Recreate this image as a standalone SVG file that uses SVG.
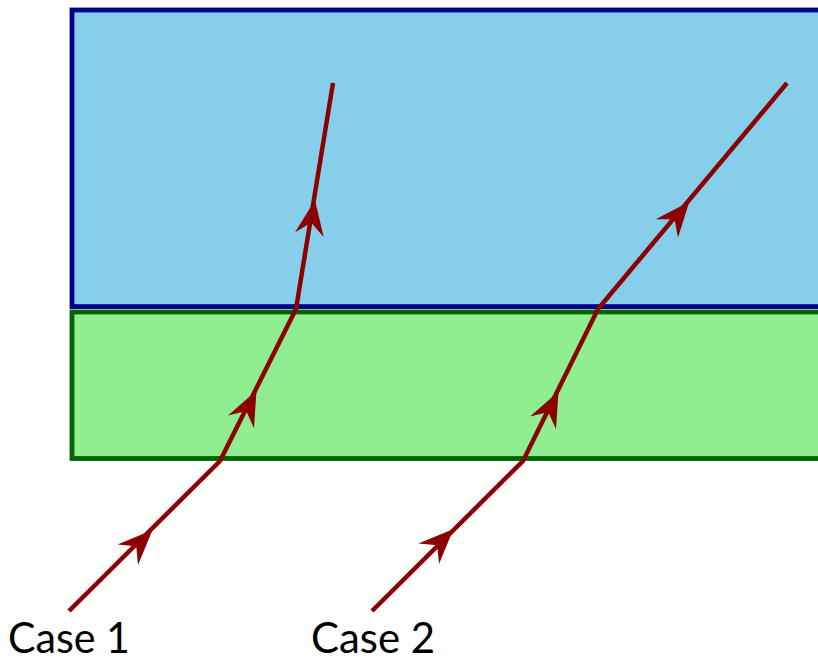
<svg xmlns="http://www.w3.org/2000/svg" xmlns:xlink="http://www.w3.org/1999/xlink" width="818" height="662" viewBox="0 0 818 662">
  <style>
    .ray { fill: none; stroke: #8b0000; stroke-width: 4.5; stroke-linejoin: miter; stroke-linecap: butt; }
    .head { fill: #8b0000; stroke: none; }
    .label { font-family: Lato, "Open Sans", "DejaVu Sans", sans-serif; font-size: 42px; fill: #000; }
  </style>
  <defs>
    <path id="ah" class="head" d="M0,0 L-35,-14.5 L-23,0 L-35,14.5 Z"/>
  </defs>
  <g id="medium-upper">
    <rect x="72" y="10" width="800" height="296.6" fill="#87ceeb" stroke="#00008b" stroke-width="4.8"/>
  </g>
  <g id="medium-lower">
    <rect x="72" y="312" width="800" height="146.5" fill="#90ee90" stroke="#006400" stroke-width="4.8"/>
  </g>
  <g id="connectors">
    <polyline class="ray" points="69,611 220,461 296,309 333,83"/>
    <polyline class="ray" points="372,611 523,461 598,309 787,83"/>
    <use xlink:href="#ah" transform="translate(152.5,530) rotate(-45)"/>
    <use xlink:href="#ah" transform="translate(256.5,390.5) rotate(-63.7)"/>
    <use xlink:href="#ah" transform="translate(315,200) rotate(-80.7)"/>
    <use xlink:href="#ah" transform="translate(453.5,529) rotate(-45)"/>
    <use xlink:href="#ah" transform="translate(558.5,391.5) rotate(-63.7)"/>
    <use xlink:href="#ah" transform="translate(689.3,201.7) rotate(-50.1)"/>
  </g>
  <g id="case1">
    <text class="label" x="8" y="653" textLength="122" lengthAdjust="spacingAndGlyphs">Case 1</text>
  </g>
  <g id="case2">
    <text class="label" x="311" y="653" textLength="124" lengthAdjust="spacingAndGlyphs">Case 2</text>
  </g>
</svg>
